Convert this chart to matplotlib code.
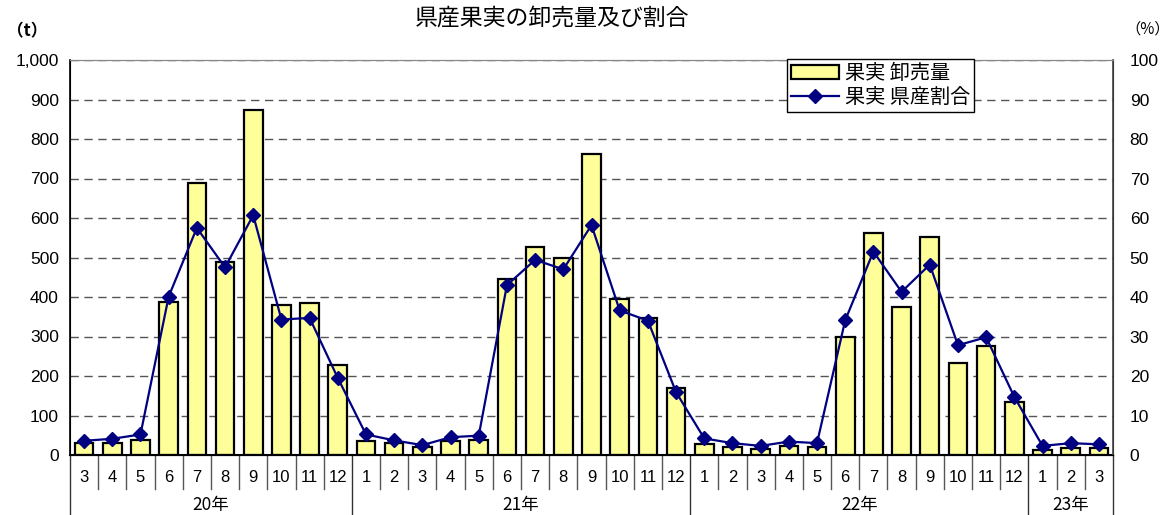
import matplotlib
matplotlib.use("Agg")
import matplotlib.pyplot as plt
import matplotlib.transforms as mtransforms
from matplotlib.lines import Line2D
from matplotlib.patches import Patch

plt.rcParams['font.family'] = ['Liberation Sans', 'Noto Sans CJK JP', 'DejaVu Sans']
JP = ['Noto Sans CJK JP', 'DejaVu Sans']

# Month labels grouped by year
years = ["20年", "21年", "22年", "23年"]
year_months = [
    [3, 4, 5, 6, 7, 8, 9, 10, 11, 12],
    [1, 2, 3, 4, 5, 6, 7, 8, 9, 10, 11, 12],
    [1, 2, 3, 4, 5, 6, 7, 8, 9, 10, 11, 12],
    [1, 2, 3],
]

# Wholesale volume of fruit (t)
volume = [30, 30, 39, 388, 688, 488, 873, 379, 385, 227,
          36, 30, 20, 35, 39, 445, 526, 500, 762, 394, 346, 169,
          27, 19, 15, 23, 19, 298, 563, 375, 552, 232, 277, 133,
          12, 17, 18]

# Share produced within the prefecture (%)
share = [3.6, 4.1, 5.2, 40.1, 57.5, 47.5, 60.7, 34.3, 34.7, 19.5,
         5.2, 3.7, 2.5, 4.5, 4.9, 43.0, 49.4, 47.0, 58.2, 36.6, 34.0, 15.9,
         4.2, 3.0, 2.3, 3.4, 3.0, 34.1, 51.5, 41.3, 48.2, 27.8, 29.8, 14.7,
         2.3, 3.0, 2.7]

months = [m for grp in year_months for m in grp]
x = list(range(len(months)))

fig = plt.figure(figsize=(11.75, 5.15), dpi=100)
ax = fig.add_axes([70 / 1175, 1 - 455 / 515, (1113 - 70) / 1175, 395 / 515])
ax2 = ax.twinx()

bar_color = "#FFFF99"
line_color = "#000080"

ax.bar(x, volume, width=0.66, color=bar_color, edgecolor="black", linewidth=1.6, zorder=2)
ax2.plot(x, share, color=line_color, linewidth=1.6, marker="D", markersize=7,
         markerfacecolor=line_color, markeredgecolor=line_color, zorder=3)

ax.set_xlim(-0.5, len(months) - 0.5)
ax.set_ylim(0, 1000)
ax2.set_ylim(0, 100)
ax.set_yticks(range(0, 1001, 100))
ax.set_yticklabels([f"{v:,}" for v in range(0, 1001, 100)])
ax2.set_yticks(range(0, 101, 10))

ax.set_axisbelow(True)
ax.yaxis.grid(True, linestyle=(0, (6, 4)), color="#555555", linewidth=1.0)
ax.tick_params(axis="y", length=0, labelsize=12.5, pad=8)
ax2.tick_params(axis="y", length=0, labelsize=12.5, pad=12)
ax.set_xticks([])

ax.spines["top"].set_color("#888888")
ax2.spines["top"].set_color("#888888")
ax.spines["left"].set_linewidth(1.2)
ax.spines["bottom"].set_linewidth(1.5)
ax2.spines["right"].set_color("#444444")
ax2.spines["right"].set_linewidth(1.2)

# Category axis: month labels, separators, year groups
trans = mtransforms.blended_transform_factory(ax.transData, ax.transAxes)
for i, m in enumerate(months):
    ax.text(i, -0.058, str(m), transform=trans, ha="center", va="center",
            fontsize=12, clip_on=False)

boundaries = []
pos = 0
for grp in year_months:
    boundaries.append(pos - 0.5)
    pos += len(grp)
boundaries.append(pos - 0.5)

for b in range(len(months) + 1):
    xb = b - 0.5
    if xb in boundaries:
        ax.add_line(Line2D([xb, xb], [0, -0.155], transform=trans, color="#333333",
                           linewidth=1.0, clip_on=False))
    else:
        ax.add_line(Line2D([xb, xb], [0, -0.085], transform=trans, color="#555555",
                           linewidth=1.0, clip_on=False))

for yr, b0, b1 in zip(years, boundaries[:-1], boundaries[1:]):
    ax.text((b0 + b1) / 2, -0.127, yr, transform=trans, ha="center", va="center",
            fontsize=12.5, family=JP, clip_on=False)

# Titles and unit labels
fig.text(552 / 1175, 1 - 18 / 515, "県産果実の卸売量及び割合", ha="center", va="center",
         fontsize=16.5, family=JP)
fig.text(27 / 1175, 1 - 31 / 515, "（t）", ha="center", va="center", fontsize=12,
         fontweight="bold", family=JP)
fig.text(1148 / 1175, 1 - 29 / 515, "（%）", ha="center", va="center", fontsize=11,
         family=JP)

handles = [
    Patch(facecolor=bar_color, edgecolor="black", linewidth=1.6),
    Line2D([], [], color=line_color, linewidth=1.6, marker="D", markersize=7,
           markerfacecolor=line_color, markeredgecolor=line_color),
]
leg = ax2.legend(handles, ["果実 卸売量", "果実 県産割合"], loc="upper left",
                 bbox_to_anchor=(0.687, 1.003), fancybox=False, framealpha=1,
                 edgecolor="black", prop={"family": JP, "size": 14.5},
                 borderpad=0.2, labelspacing=0.15,
                 handlelength=2.4, handletextpad=0.3, borderaxespad=0)
leg.get_frame().set_linewidth(1.0)

fig.savefig("out.png", dpi=100)
